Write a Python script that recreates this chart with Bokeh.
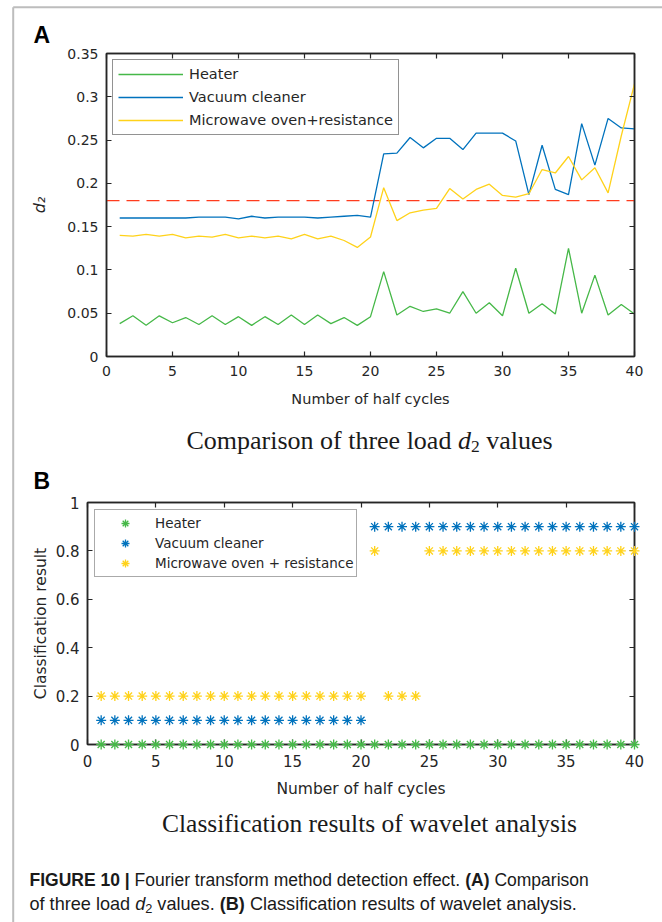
from bokeh.plotting import figure
from bokeh.models import Legend, LegendItem, LinearAxis, FixedTicker, Range1d
from bokeh.layouts import column
from bokeh.embed import file_html
from bokeh.resources import INLINE
from bokeh.core.properties import value

# ---------------- data ----------------
half_cycles = [1, 2, 3, 4, 5, 6, 7, 8, 9, 10, 11, 12, 13, 14, 15, 16, 17, 18, 19, 20,
               21, 22, 23, 24, 25, 26, 27, 28, 29, 30, 31, 32, 33, 34, 35, 36, 37, 38, 39, 40]

heater_d2 = [0.038, 0.047, 0.036, 0.047, 0.039, 0.045, 0.037, 0.047, 0.037, 0.046,
             0.036, 0.046, 0.037, 0.048, 0.037, 0.048, 0.038, 0.045, 0.036, 0.046,
             0.098, 0.048, 0.058, 0.052, 0.055, 0.050, 0.075, 0.050, 0.062, 0.047,
             0.102, 0.050, 0.061, 0.049, 0.125, 0.050, 0.094, 0.048, 0.060, 0.049]
vacuum_d2 = [0.160, 0.160, 0.160, 0.160, 0.160, 0.160, 0.161, 0.161, 0.161, 0.159,
             0.162, 0.160, 0.161, 0.161, 0.161, 0.160, 0.161, 0.162, 0.163, 0.161,
             0.234, 0.235, 0.253, 0.241, 0.252, 0.252, 0.239, 0.258, 0.258, 0.258,
             0.249, 0.187, 0.244, 0.193, 0.187, 0.269, 0.221, 0.275, 0.264, 0.263]
microwave_d2 = [0.140, 0.139, 0.141, 0.139, 0.141, 0.137, 0.139, 0.138, 0.141, 0.137,
                0.139, 0.137, 0.139, 0.136, 0.141, 0.136, 0.139, 0.134, 0.126, 0.138,
                0.195, 0.157, 0.166, 0.169, 0.171, 0.194, 0.182, 0.193, 0.199, 0.186,
                0.184, 0.188, 0.216, 0.212, 0.231, 0.204, 0.218, 0.189, 0.255, 0.315]
threshold_x = [0, 40]
threshold_d2 = [0.18, 0.18]

cls_heater = [0, 0, 0, 0, 0, 0, 0, 0, 0, 0, 0, 0, 0, 0, 0, 0, 0, 0, 0, 0,
              0, 0, 0, 0, 0, 0, 0, 0, 0, 0, 0, 0, 0, 0, 0, 0, 0, 0, 0, 0]
cls_vacuum = [0.1, 0.1, 0.1, 0.1, 0.1, 0.1, 0.1, 0.1, 0.1, 0.1,
              0.1, 0.1, 0.1, 0.1, 0.1, 0.1, 0.1, 0.1, 0.1, 0.1,
              0.9, 0.9, 0.9, 0.9, 0.9, 0.9, 0.9, 0.9, 0.9, 0.9,
              0.9, 0.9, 0.9, 0.9, 0.9, 0.9, 0.9, 0.9, 0.9, 0.9]
cls_microwave = [0.2, 0.2, 0.2, 0.2, 0.2, 0.2, 0.2, 0.2, 0.2, 0.2,
                 0.2, 0.2, 0.2, 0.2, 0.2, 0.2, 0.2, 0.2, 0.2, 0.2,
                 0.8, 0.2, 0.2, 0.2, 0.8, 0.8, 0.8, 0.8, 0.8, 0.8,
                 0.8, 0.8, 0.8, 0.8, 0.8, 0.8, 0.8, 0.8, 0.8, 0.8]

names_a = ["Heater", "Vacuum cleaner", "Microwave oven+resistance"]
names_b = ["Heater", "Vacuum cleaner", "Microwave oven + resistance"]

x_ticks = [0, 5, 10, 15, 20, 25, 30, 35, 40]
x_tick_labels = ["0", "5", "10", "15", "20", "25", "30", "35", "40"]
ya_ticks = [0, 0.05, 0.1, 0.15, 0.2, 0.25, 0.3, 0.35]
ya_tick_labels = ["0", "0.05", "0.1", "0.15", "0.2", "0.25", "0.3", "0.35"]
yb_ticks = [0, 0.2, 0.4, 0.6, 0.8, 1]
yb_tick_labels = ["0", "0.2", "0.4", "0.6", "0.8", "1"]

# ---------------- styles ----------------
AX = "#262626"
TXT = "#262626"
GREEN = "#46B848"
BLUE = "#0072BD"
YELLOW = "#FFD21A"
RED = "#FF3C1E"
FRAME = "#BDBDBD"
SANS = "DejaVu Sans"
TEXT_DY = -7.5   # baseline correction of the svg text placement

ARIAL = {' ': 278, '(': 333, ')': 333, '.': 278, '|': 260, '0': 556, '1': 556, '2': 556,
         'A': 667, 'B': 667, 'C': 722, 'E': 667, 'F': 611, 'G': 778, 'I': 278, 'R': 722, 'U': 722,
         'a': 556, 'b': 556, 'c': 500, 'd': 556, 'e': 556, 'f': 278, 'g': 556, 'h': 556, 'i': 222,
         'l': 222, 'm': 833, 'n': 556, 'o': 556, 'p': 556, 'r': 333, 's': 500, 't': 278, 'u': 556,
         'v': 500, 'w': 722, 'y': 500}
ARIAL_B = dict(ARIAL)
ARIAL_B.update({'A': 722, 'B': 722, '|': 280})
TIMES = {' ': 250, 'C': 667, '2': 500, 'a': 444, 'c': 444, 'd': 500, 'e': 444, 'f': 333,
         'h': 500, 'i': 278, 'l': 278, 'm': 778, 'n': 500, 'o': 500, 'p': 500, 'r': 333,
         's': 389, 't': 278, 'u': 500, 'v': 500, 'w': 722, 'y': 500}


def tw(s, table, size):
    return sum(table.get(c, 556) for c in s) / 1000.0 * size


def add_text(p, dx, dy, text, font, size, style="normal", color="black"):
    """Text anchored at the frame's bottom-left data corner (0, 0), offset in pixels
    (dx to the right, dy downwards); level overlay so it is not clipped to the frame."""
    p.text(x=[0], y=[0], text=[text], x_offset=dx, y_offset=dy + TEXT_DY,
           text_font=value(font), text_font_size=f"{size}px", text_font_style=style,
           text_color=color, text_align="left", text_baseline="alphabetic", level="overlay")


def add_runs(p, x0, y0, runs, font, table_map, color="#1a1a1a"):
    """runs: list of (text, style, size, dy) ; dy positive = lower"""
    x = x0
    for text, style, size, dy in runs:
        table = table_map[style]
        lead = len(text) - len(text.lstrip(' '))
        x += tw(' ' * lead, table, size)
        core = text.strip(' ')
        add_text(p, x, y0 + dy, core, font, size, style=style, color=color)
        x += tw(core, table, size)
        trail = len(text) - len(text.rstrip(' '))
        x += tw(' ' * trail, table, size)
    return x


def runs_width(runs, table_map):
    return sum(tw(t, table_map[s], sz) for t, s, sz, dy in runs)


def style_axis(ax, tick_size, label_size, standoff, label_standoff):
    ax.axis_line_color = AX
    ax.axis_line_width = 1.5
    ax.major_tick_line_color = AX
    ax.major_tick_line_width = 1.2
    ax.major_tick_in = 5
    ax.major_tick_out = 0
    ax.minor_tick_line_color = None
    ax.major_label_text_font = SANS
    ax.major_label_text_font_size = tick_size
    ax.major_label_text_color = TXT
    ax.major_label_standoff = standoff
    ax.axis_label_text_font = SANS
    ax.axis_label_text_font_size = label_size
    ax.axis_label_text_font_style = "normal"
    ax.axis_label_text_color = TXT
    ax.axis_label_standoff = label_standoff


def add_box_axes(p, xt, yt):
    top = LinearAxis(ticker=FixedTicker(ticks=xt))
    right = LinearAxis(ticker=FixedTicker(ticks=yt))
    for ax in (top, right):
        style_axis(ax, "0px", "0px", 0, 0)
        ax.major_label_text_alpha = 0
    p.add_layout(top, "above")
    p.add_layout(right, "right")


def page_frame_lines(p, fl, fr, ft, fb, xmax, ymax, page_x, top_y, bottom_y, right_x):
    """Grey page border (a decoration, positioned in pixels of the page)."""
    def dxv(px):
        return (px - fl) / (fr - fl) * xmax

    def dyv(py):
        return (fb - py) / (fb - ft) * ymax
    p.segment(x0=[dxv(page_x)], y0=[dyv(top_y)], x1=[dxv(page_x)], y1=[dyv(bottom_y)],
              line_color=FRAME, line_width=2, level="overlay")
    if right_x is not None:
        p.segment(x0=[dxv(page_x)], y0=[dyv(top_y)], x1=[dxv(right_x)], y1=[dyv(top_y)],
                  line_color=FRAME, line_width=2, level="overlay")


# ================= Panel A =================
F1L, F1R, F1T, F1B, H1 = 106, 634, 53, 356, 463
p1 = figure(width=662, height=H1, x_range=Range1d(0, 40), y_range=Range1d(0, 0.35),
            min_border_left=F1L, min_border_right=662 - F1R, min_border_top=F1T,
            min_border_bottom=H1 - F1B, output_backend="svg", toolbar_location=None,
            background_fill_color="white", border_fill_color="white", frame_align=False)
p1.outline_line_color = AX
p1.outline_line_width = 1.5
p1.grid.visible = False

p1.xaxis.ticker = FixedTicker(ticks=x_ticks)
p1.xaxis.major_label_overrides = dict(zip(x_ticks, x_tick_labels))
p1.yaxis.ticker = FixedTicker(ticks=ya_ticks)
p1.yaxis.major_label_overrides = dict(zip(ya_ticks, ya_tick_labels))
p1.xaxis.axis_label = "Number of half cycles"
p1.yaxis.axis_label = "d\u2082"
style_axis(p1.xaxis[0], "14px", "14.5px", 9, 12)
style_axis(p1.yaxis[0], "14px", "16px", 8, 15)
p1.yaxis[0].axis_label_text_font_style = "italic"
add_box_axes(p1, x_ticks, ya_ticks)

p1.line(threshold_x, threshold_d2, line_color=RED, line_width=1.3, line_dash="13 7")
r_h = p1.line(half_cycles, heater_d2, line_color=GREEN, line_width=1.3)
r_v = p1.line(half_cycles, vacuum_d2, line_color=BLUE, line_width=1.3)
r_m = p1.line(half_cycles, microwave_d2, line_color=YELLOW, line_width=1.3)

leg1 = Legend(items=[LegendItem(label=names_a[0], renderers=[r_h]),
                     LegendItem(label=names_a[1], renderers=[r_v]),
                     LegendItem(label=names_a[2], renderers=[r_m])],
              location="top_left", margin=6, padding=5, spacing=5, label_standoff=6,
              glyph_width=65, glyph_height=18, label_height=18,
              label_text_font=SANS, label_text_font_size="14.5px", label_text_color=TXT,
              border_line_color=AX, border_line_width=1, background_fill_color="white",
              background_fill_alpha=1)
p1.add_layout(leg1)

# panel letter + subtitle (offsets from the frame's bottom-left corner, in pixels)
add_text(p1, 33 - F1L, 42 - F1B, "A", "Liberation Sans", 23, style="bold", color="black")
sub1 = [("Comparison of three load ", "normal", 26, 0), ("d", "italic", 26, 0),
        ("2", "normal", 17.5, 6), (" values", "normal", 26, 0)]
tmap = {"normal": TIMES, "italic": TIMES, "bold": TIMES}
w1 = runs_width(sub1, tmap)
add_runs(p1, 369 - F1L - w1 / 2, 447 - F1B, sub1, "Liberation Serif", tmap)
page_frame_lines(p1, F1L, F1R, F1T, F1B, 40, 0.35, 12.7, 6.7, H1 + 2, 664)

# ================= Panel B =================
OFF2 = H1
F2L, F2R, F2T, F2B = 87, 634, 502, 744
H2 = 922 - OFF2
p2 = figure(width=662, height=H2, x_range=Range1d(0, 40), y_range=Range1d(0, 1),
            min_border_left=F2L, min_border_right=662 - F2R, min_border_top=F2T - OFF2,
            min_border_bottom=OFF2 + H2 - F2B, output_backend="svg", toolbar_location=None,
            background_fill_color="white", border_fill_color="white", frame_align=False)
p2.outline_line_color = AX
p2.outline_line_width = 1.5
p2.grid.visible = False

p2.xaxis.ticker = FixedTicker(ticks=x_ticks)
p2.xaxis.major_label_overrides = dict(zip(x_ticks, x_tick_labels))
p2.yaxis.ticker = FixedTicker(ticks=yb_ticks)
p2.yaxis.major_label_overrides = dict(zip(yb_ticks, yb_tick_labels))
p2.xaxis.axis_label = "Number of half cycles"
p2.yaxis.axis_label = "Classification result"
style_axis(p2.xaxis[0], "15px", "15.5px", 10, 10)
style_axis(p2.yaxis[0], "15px", "15.5px", 8, 3)
add_box_axes(p2, x_ticks, yb_ticks)

mk = dict(marker="asterisk", size=10, line_width=1.3, level="overlay")
s_h = p2.scatter(half_cycles, cls_heater, line_color=GREEN, **mk)
s_v = p2.scatter(half_cycles, cls_vacuum, line_color=BLUE, **mk)
s_m = p2.scatter(half_cycles, cls_microwave, line_color=YELLOW, **mk)

leg2 = Legend(items=[LegendItem(label=names_b[0], renderers=[s_h]),
                     LegendItem(label=names_b[1], renderers=[s_v]),
                     LegendItem(label=names_b[2], renderers=[s_m])],
              location="top_left", margin=7, padding=3, spacing=0, label_standoff=3,
              glyph_width=54, glyph_height=20, label_height=20,
              label_text_font=SANS, label_text_font_size="13.5px", label_text_color=TXT,
              border_line_color="#555555", border_line_width=1, background_fill_color="white",
              background_fill_alpha=1)
p2.add_layout(leg2)

add_text(p2, 33 - F2L, 488 - F2B, "B", "Liberation Sans", 23, style="bold", color="black")
sub2 = [("Classification results of wavelet analysis", "normal", 25.5, 0)]
w2 = runs_width(sub2, tmap)
add_runs(p2, 369 - F2L - w2 / 2, 830 - F2B, sub2, "Liberation Serif", tmap)

amap = {"normal": ARIAL, "italic": ARIAL, "bold": ARIAL_B}
CS1 = 17.5
CS2 = 18.1
cap1 = [("FIGURE 10 |", "bold", CS1, 0), (" Fourier transform method detection effect. ", "normal", CS1, 0),
        ("(A)", "bold", CS1, 0), (" Comparison", "normal", CS1, 0)]
cap2 = [("of three load ", "normal", CS2, 0), ("d", "italic", CS2, 0), ("2", "normal", 12.8, 4),
        (" values. ", "normal", CS2, 0), ("(B)", "bold", CS2, 0),
        (" Classification results of wavelet analysis.", "normal", CS2, 0)]
add_runs(p2, 29 - F2L, 887 - F2B, cap1, "Liberation Sans", amap)
add_runs(p2, 29 - F2L, 911 - F2B, cap2, "Liberation Sans", amap)
page_frame_lines(p2, F2L, F2R, F2T, F2B, 40, 1, 12.7, OFF2 - 2, OFF2 + H2 + 2, None)

page = column(p1, p2, spacing=0)
open("out.html", "w").write(file_html(page, INLINE))
